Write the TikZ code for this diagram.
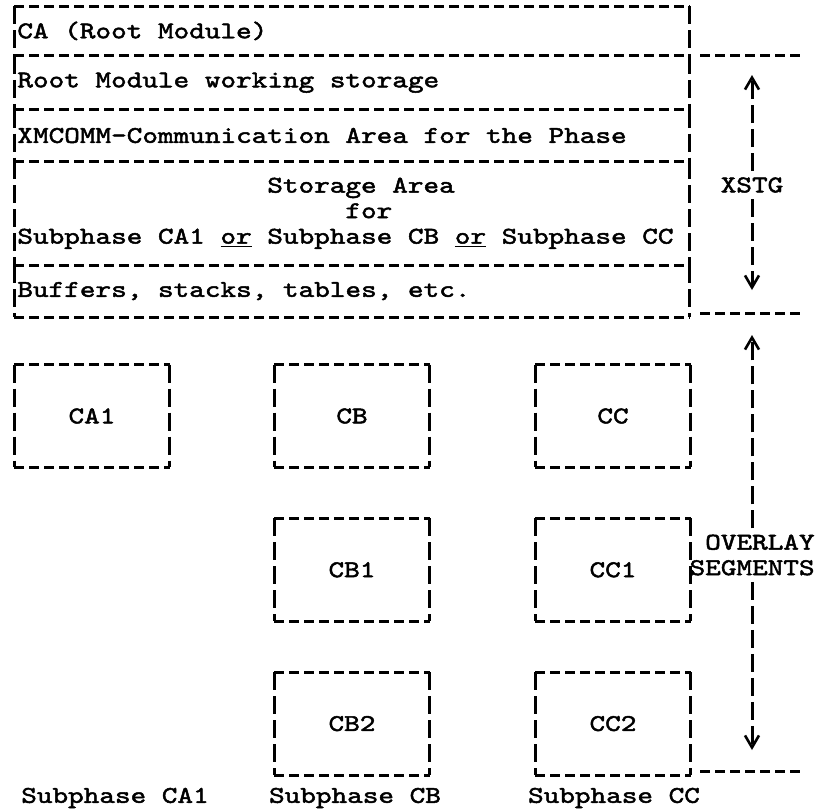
\documentclass[tikz,border=0pt]{standalone}
\usepackage{fontspec}
\newfontfamily\typer{lmmono10-regular.otf}[FakeStretch=1.24, FakeBold=2]
\usepackage{tikz}
\usetikzlibrary{positioning}
\usetikzlibrary{arrows.meta}
\newcommand{\px}{0.5pt}
\newcommand{\areawidth}{675}
\newcommand{\segwidth}{155}
\newcommand{\segheight}{102}
\newcommand{\colwidth}{7.81pt}
\newcommand{\typeface}{\typer\fontsize{12}{12.75}\selectfont\spaceskip=\colwidth\relax\xspaceskip=\colwidth\relax}
\newcommand{\typed}[1]{\makebox[334.5pt][l]{#1}}
\tikzset{
    every node/.style={font=\typeface},
    hdash/.style={line width=1.5pt, dash pattern=on 5pt off 2.5pt},
    vdash/.style={line width=1.5pt, dash pattern=on 9pt off 3pt},
    area/.style={rectangle, anchor=north west, minimum width=\areawidth*\px,
        inner xsep=1.5pt, inner ysep=0pt, align=left},
    seg/.style={rectangle, minimum width=\segwidth*\px, minimum height=\segheight*\px},
    tip/.style={-{Straight Barb[length=6pt, width=7pt, line width=1.3pt, sep=1.5pt]}},
    side/.style={inner sep=3pt}
}

\begin{document}
\begin{tikzpicture}[x=0.5pt, y=-0.5pt]
    \useasboundingbox (0,0) rectangle (821,811);

    % storage of the phase
    \node[area, minimum height=49*\px] (ca) at (14,6) {\typed{CA (Root Module)}};
    \node[area, minimum height=53*\px] (work) at (ca.south west) {\typed{Root Module working storage}};
    \node[area, minimum height=51*\px] (comm) at (work.south west) {\typed{XMCOMM-Communication Area for the Phase}};
    \node[area, minimum height=103*\px] (stg) at (comm.south west)
        {\typed{\hspace*{16\dimexpr\colwidth\relax}Storage Area}\\
         \typed{\hspace*{21\dimexpr\colwidth\relax}for}\\
         \typed{Subphase CA1 \underline{or} Subphase CB \underline{or} Subphase CC}};
    \node[area, minimum height=51*\px] (buf) at (stg.south west) {\typed{Buffers, stacks, tables, etc.}};

    % overlay segments
    \node[seg] (ca1) at (92,416) {CA1};
    \node[seg] (cb) at (352,416) {CB};
    \node[seg] (cc) at (613,416) {CC};
    \node[seg, below=25.5pt of cb] (cb1) {CB1};
    \node[seg, below=25.5pt of cc] (cc1) {CC1};
    \node[seg, below=25.5pt of cb1] (cb2) {CB2};
    \node[seg, below=25.5pt of cc1] (cc2) {CC2};

    \node (sub-ca1) at (115,798) {Subphase CA1};
    \node (sub-cb) at (355,798) {Subphase CB};
    \node (sub-cc) at (614,798) {Subphase CC};

    \foreach \n in {ca,work,comm,stg,buf,ca1,cb,cc,cb1,cc1,cb2,cc2} {
        \draw[hdash] (\n.north west) -- (\n.north east) (\n.south west) -- (\n.south east);
        \draw[vdash] (\n.north west) -- (\n.south west) (\n.north east) -- (\n.south east);
    }

    % extents on the right
    \coordinate (xstg-top-l) at (700,55);
    \coordinate (xstg-top-r) at (803,55);
    \coordinate (xstg-bot-l) at (700,313);
    \coordinate (xstg-bot-r) at (803,313);
    \coordinate (ovl-bot-l) at (700,771);
    \coordinate (ovl-bot-r) at (803,771);
    \coordinate (xstg-up) at (752,72);
    \coordinate (xstg-dn) at (752,293);
    \coordinate (ovl-up) at (752,332);
    \coordinate (ovl-dn) at (752,753);

    \node[side] (xstg) at (752,185) {XSTG};
    \node[side, anchor=east, align=right] (ovl) at (821,555) {OVERLAY\\SEGMENTS};

    \draw[hdash] (xstg-top-l) -- (xstg-top-r) (xstg-bot-l) -- (xstg-bot-r) (ovl-bot-l) -- (ovl-bot-r);
    \draw[vdash, tip] (xstg.north) -- (xstg-up);
    \draw[vdash, tip] (xstg.south) -- (xstg-dn);
    \draw[vdash, tip] (ovl.north -| ovl-up) -- (ovl-up);
    \draw[vdash, tip] (ovl.south -| ovl-dn) -- (ovl-dn);
\end{tikzpicture}
\end{document}
